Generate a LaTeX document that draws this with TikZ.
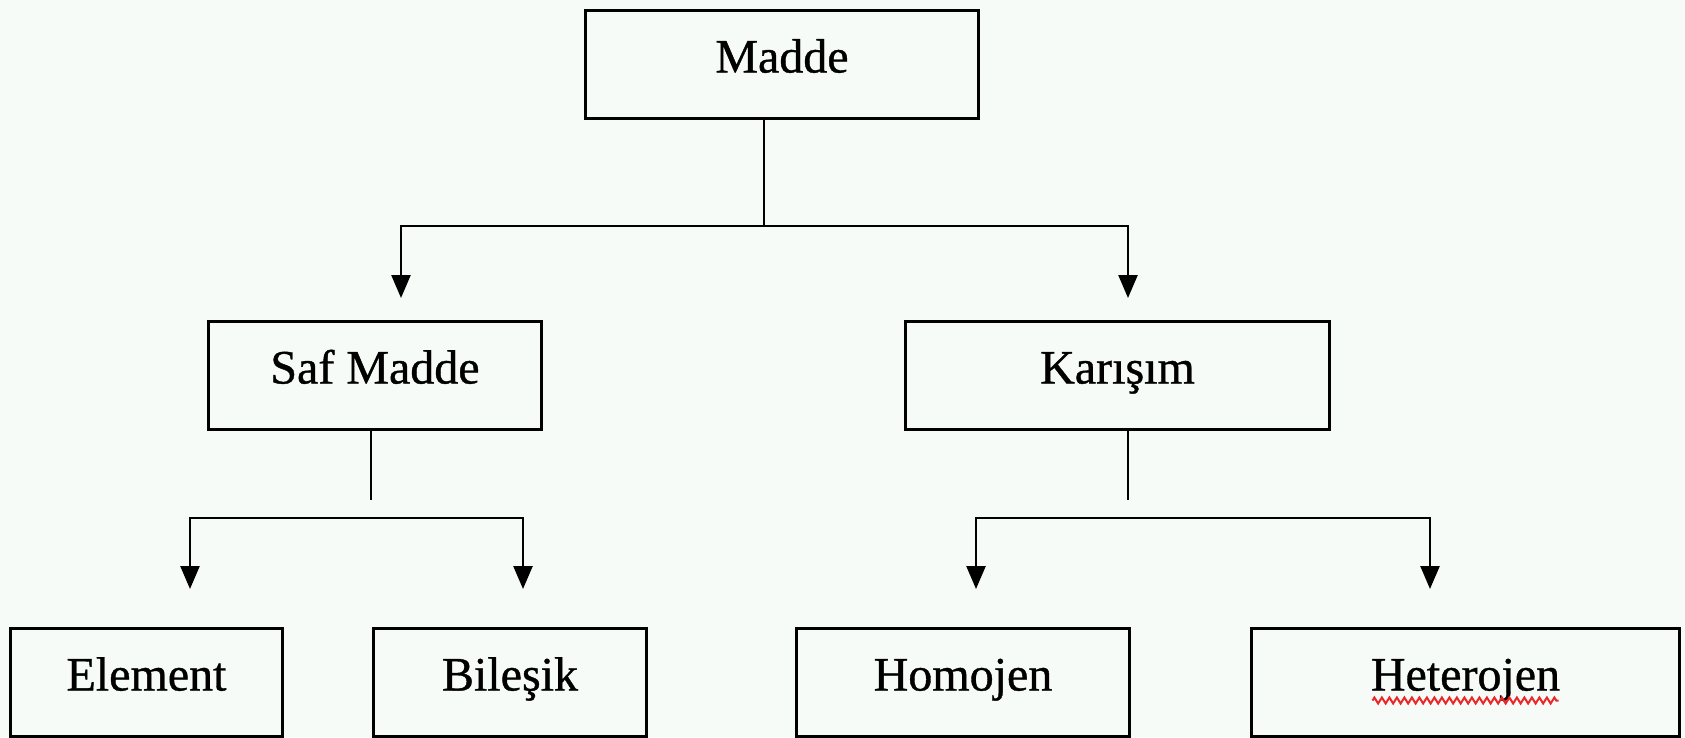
\documentclass[tikz,border=0pt]{standalone}
\usepackage{fontspec}
\setmainfont{Liberation Serif}
\newfontfamily\labelfont{Liberation Serif}[FakeBold=0.8]
\usetikzlibrary{arrows.meta,decorations.pathmorphing}
\definecolor{paper}{RGB}{246,251,248}
\definecolor{squiggle}{RGB}{235,40,40}
\begin{document}
\begin{tikzpicture}[x=1pt,y=-1pt,
  box/.style={draw=black, line width=3pt, inner sep=0pt, text height=62pt,
    text depth=46pt, anchor=north west, font=\labelfont\fontsize{48}{48}\selectfont},
  link/.style={line width=2.5pt, black},
  arr/.style={link, -{Triangle[length=23pt,width=19pt]}}]
\fill[paper] (0,0) rectangle (1685,737);
\useasboundingbox (0,0) rectangle (1685,737);

% boxes
\node[box, minimum width=393pt] (madde)  at (584,9)    {Madde};
\node[box, minimum width=333pt] (saf)    at (207,320)  {Saf Madde};
\node[box, minimum width=424pt] (kar)    at (904,320)  {Karışım};
\node[box, minimum width=272pt] (elem)   at (9,627)    {Element};
\node[box, minimum width=273pt] (bil)    at (372,627)  {Bileşik};
\node[box, minimum width=333pt] (homo)   at (795,627)  {Homojen};
\node[box, minimum width=428pt] (hetero) at (1250,627) {Heterojen};

% junctions and arrow ends
\coordinate (top-j)     at (764,226);
\coordinate (saf-tip)   at (401,298);
\coordinate (kar-tip)   at (1128,298);
\coordinate (saf-stub)  at (371,500);
\coordinate (saf-bar)   at (371,518);
\coordinate (elem-tip)  at (190,589);
\coordinate (bil-tip)   at (523,589);
\coordinate (kar-stub)  at (1128,500);
\coordinate (kar-bar)   at (1128,518);
\coordinate (homo-tip)  at (976,589);
\coordinate (het-tip)   at (1430,589);

% first level
\draw[link] (madde.south -| top-j) -- (top-j);
\draw[arr] (top-j) -| (saf-tip);
\draw[arr] (top-j) -| (kar-tip);

% second level, left
\draw[link] (saf.south -| saf-stub) -- (saf-stub);
\draw[arr] (saf-bar) -| (elem-tip);
\draw[arr] (saf-bar) -| (bil-tip);

% second level, right
\draw[link] (kar.south -| kar-stub) -- (kar-stub);
\draw[arr] (kar-bar) -| (homo-tip);
\draw[arr] (kar-bar) -| (het-tip);

% spell-check squiggle under the last label
\draw[squiggle, line width=2pt, decorate,
  decoration={zigzag, amplitude=3pt, segment length=7.5pt}]
  ([shift={(-93,18)}]hetero.center) -- ([shift={(93,18)}]hetero.center);
\end{tikzpicture}
\end{document}
